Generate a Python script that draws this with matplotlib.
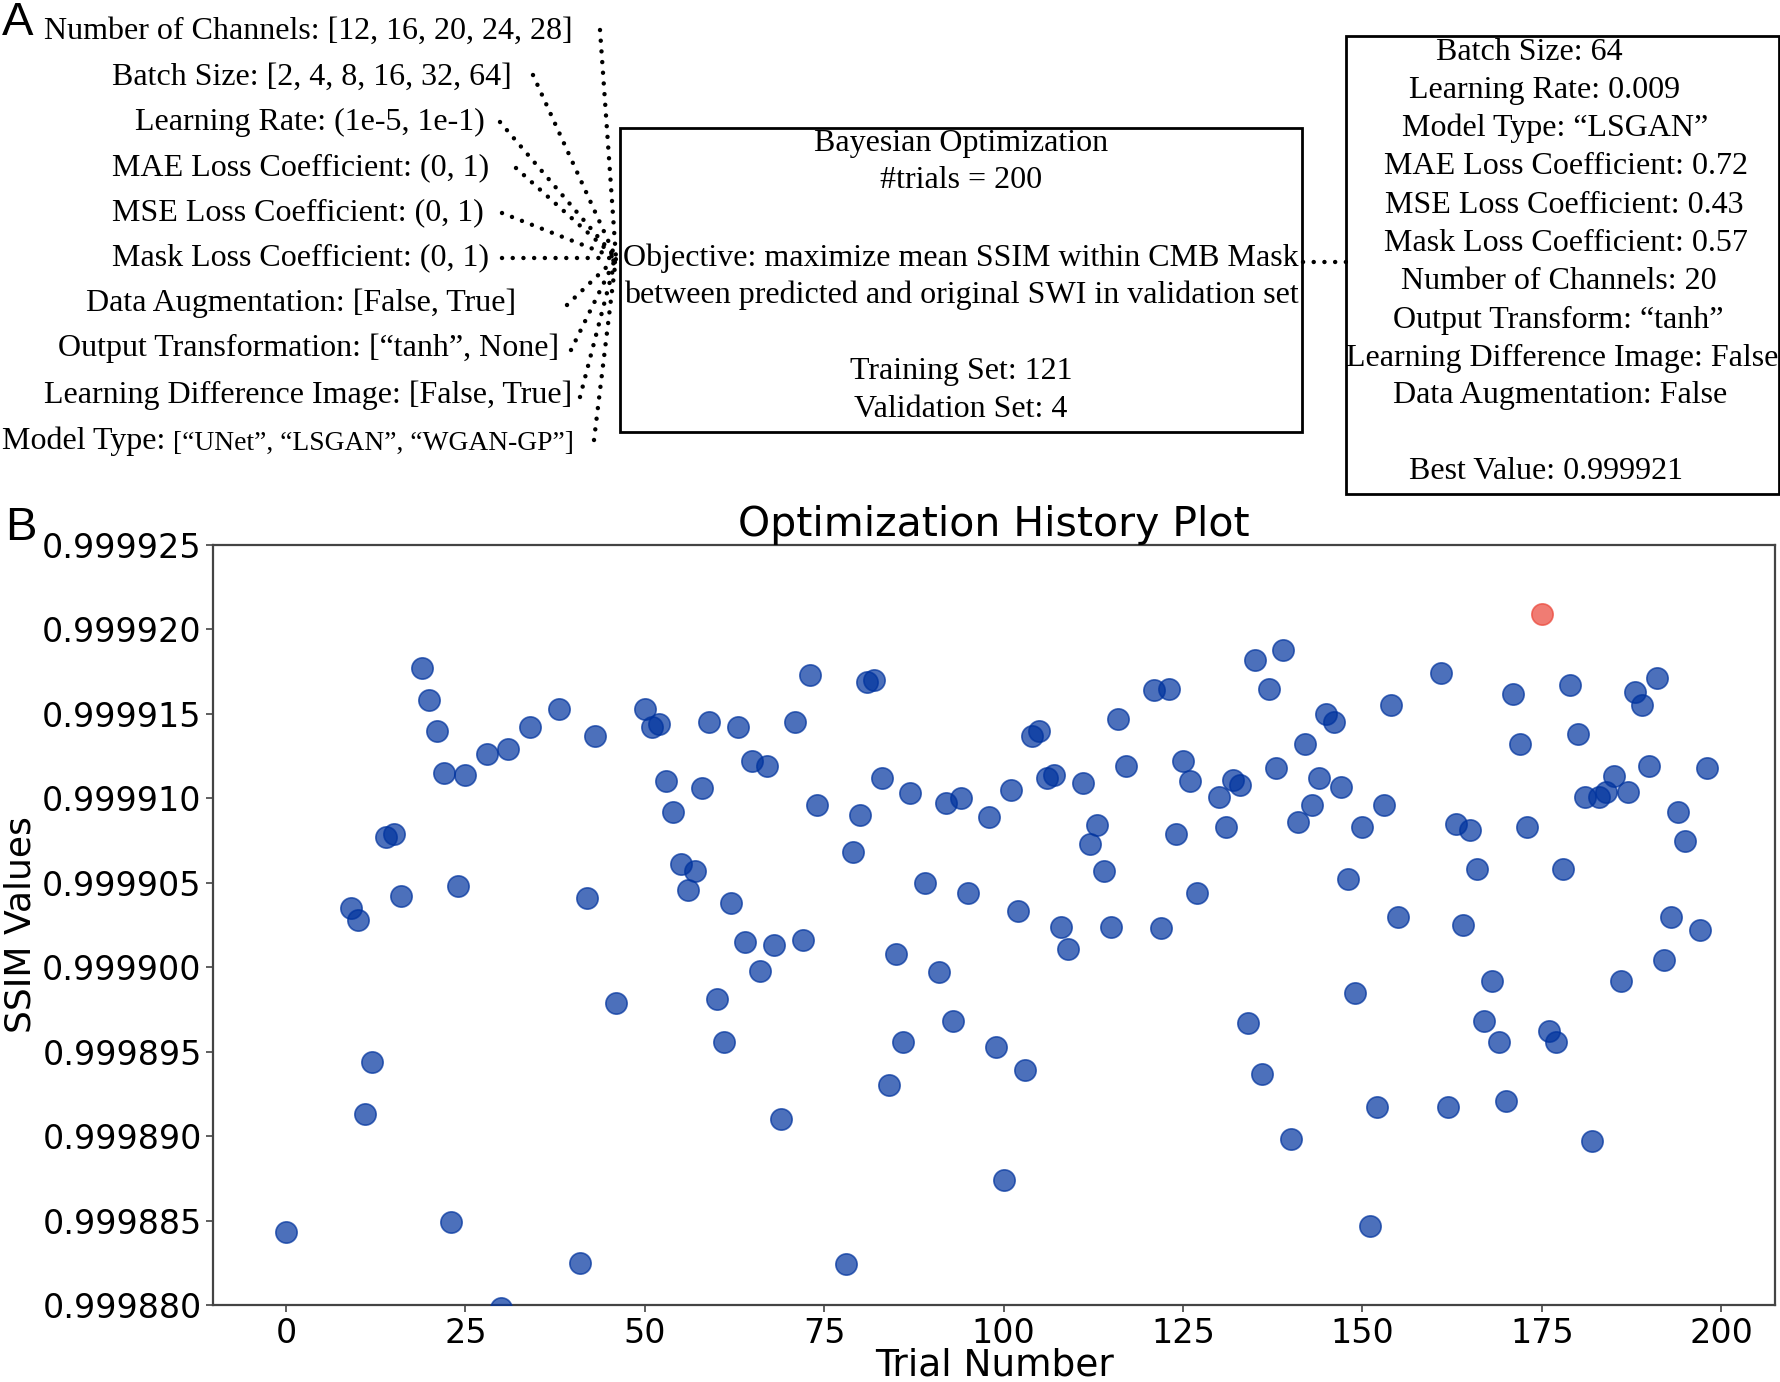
import numpy as np
import matplotlib
matplotlib.use("Agg")
import matplotlib.pyplot as plt
from matplotlib.patches import Rectangle
from matplotlib.ticker import FormatStrFormatter

# ---- panel A text ----
search_space = ["Number of Channels: [12, 16, 20, 24, 28]",
                "Batch Size: [2, 4, 8, 16, 32, 64]",
                "Learning Rate: (1e-5, 1e-1)",
                "MAE Loss Coefficient: (0, 1)",
                "MSE Loss Coefficient: (0, 1)",
                "Mask Loss Coefficient: (0, 1)",
                "Data Augmentation: [False, True]",
                "Output Transformation: [\u201ctanh\u201d, None]",
                "Learning Difference Image: [False, True]"]
model_type_head = "Model Type: "
model_type_opts = "[\u201cUNet\u201d, \u201cLSGAN\u201d, \u201cWGAN-GP\u201d]"

study_lines = ["Bayesian Optimization", "#trials = 200", "",
               "Objective: maximize mean SSIM within CMB Mask",
               "between predicted and original SWI in validation set", "",
               "Training Set: 121", "Validation Set: 4"]

best_params = ["Batch Size: 64",
               "Learning Rate: 0.009",
               "Model Type: \u201cLSGAN\u201d",
               "MAE Loss Coefficient: 0.72",
               "MSE Loss Coefficient: 0.43",
               "Mask Loss Coefficient: 0.57",
               "Number of Channels: 20",
               "Output Transform: \u201ctanh\u201d",
               "Learning Difference Image: False",
               "Data Augmentation: False",
               "",
               "Best Value: 0.999921"]

# ---- panel B data ----
trial_ids = [0, 9, 10, 11, 12, 14, 15, 16, 19, 20, 21, 22, 23, 24, 25, 28, 30, 31,
             34, 38, 41, 42, 43, 46, 50, 51, 52, 53, 54, 55, 56, 57, 58, 59, 60, 61,
             62, 63, 64, 65, 66, 67, 68, 69, 71, 72, 73, 74, 78, 79, 80, 81, 82, 83,
             84, 85, 86, 87, 89, 91, 92, 93, 94, 95, 98, 99, 100, 101, 102, 103, 104,
             105, 106, 107, 108, 109, 111, 112, 113, 114, 115, 116, 117, 121, 122,
             123, 124, 125, 126, 127, 130, 131, 132, 133, 134, 135, 136, 137, 138,
             139, 140, 141, 142, 143, 144, 145, 146, 147, 148, 149, 150, 151, 152,
             153, 154, 155, 161, 162, 163, 164, 165, 166, 167, 168, 169, 170, 171,
             172, 173, 176, 177, 178, 179, 180, 181, 182, 183, 184, 185, 186, 187,
             188, 189, 190, 191, 192, 193, 194, 195, 197, 198]
ssim_values = [0.9998843, 0.9999035, 0.9999028, 0.9998913, 0.9998944, 0.9999077,
               0.9999079, 0.9999042, 0.9999177, 0.9999158, 0.9999140, 0.9999115,
               0.9998849, 0.9999048, 0.9999114, 0.9999126, 0.9998798, 0.9999129,
               0.9999142, 0.9999153, 0.9998825, 0.9999041, 0.9999137, 0.9998979,
               0.9999153, 0.9999142, 0.9999144, 0.9999110, 0.9999092, 0.9999061,
               0.9999046, 0.9999057, 0.9999106, 0.9999145, 0.9998981, 0.9998956,
               0.9999038, 0.9999142, 0.9999015, 0.9999122, 0.9998998, 0.9999119,
               0.9999013, 0.9998910, 0.9999145, 0.9999016, 0.9999173, 0.9999096,
               0.9998824, 0.9999068, 0.9999090, 0.9999169, 0.9999170, 0.9999112,
               0.9998930, 0.9999008, 0.9998956, 0.9999103, 0.9999050, 0.9998997,
               0.9999097, 0.9998968, 0.9999100, 0.9999044, 0.9999089, 0.9998953,
               0.9998874, 0.9999105, 0.9999033, 0.9998939, 0.9999137, 0.9999140,
               0.9999112, 0.9999114, 0.9999024, 0.9999011, 0.9999109, 0.9999073,
               0.9999084, 0.9999057, 0.9999024, 0.9999147, 0.9999119, 0.9999164,
               0.9999023, 0.9999165, 0.9999079, 0.9999122, 0.9999110, 0.9999044,
               0.9999101, 0.9999083, 0.9999111, 0.9999108, 0.9998967, 0.9999182,
               0.9998937, 0.9999165, 0.9999118, 0.9999188, 0.9998898, 0.9999086,
               0.9999132, 0.9999096, 0.9999112, 0.9999150, 0.9999145, 0.9999107,
               0.9999052, 0.9998985, 0.9999083, 0.9998847, 0.9998917, 0.9999096,
               0.9999155, 0.9999030, 0.9999174, 0.9998917, 0.9999085, 0.9999025,
               0.9999081, 0.9999058, 0.9998968, 0.9998992, 0.9998956, 0.9998921,
               0.9999162, 0.9999132, 0.9999083, 0.9998962, 0.9998956, 0.9999058,
               0.9999167, 0.9999138, 0.9999101, 0.9998897, 0.9999101, 0.9999104,
               0.9999113, 0.9998992, 0.9999104, 0.9999163, 0.9999155, 0.9999119,
               0.9999171, 0.9999004, 0.9999030, 0.9999092, 0.9999075, 0.9999022,
               0.9999118]
best_trial = [175]
best_value = [0.9999209]
y_ticks = [0.999880, 0.999885, 0.999890, 0.999895, 0.999900,
           0.999905, 0.999910, 0.999915, 0.999920, 0.999925]
x_ticks = [0, 25, 50, 75, 100, 125, 150, 175, 200]

W, H = 1781, 1382
serif = ["Liberation Serif", "DejaVu Serif"]
fs_a = 23

fig = plt.figure(figsize=(W / 100, H / 100), dpi=100)

# overlay in pixel coordinates for the diagram of panel A
ov = fig.add_axes([0, 0, 1, 1])
ov.set_xlim(0, W)
ov.set_ylim(H, 0)
ov.axis("off")

left_cx = [308, 312, 310, 301, 298, 301, 301, 309, 308]
left_cy = [31, 77, 122, 168, 213, 258, 303, 348, 395]
for txt, cx, cy in zip(search_space, left_cx, left_cy):
    ov.text(cx, cy, txt, ha="center", va="center", fontsize=fs_a, family=serif)
ov.text(173, 441, model_type_head, ha="right", va="center", fontsize=fs_a, family=serif)
ov.text(173, 443, model_type_opts, ha="left", va="center", fontsize=19.8, family=serif)

# dotted connectors converging on the study box
hub = (616, 258)
starts = [(600, 30), (533, 75), (500, 122), (516, 168), (502, 213), (502, 258),
          (567, 305), (571, 350), (580, 397), (594, 440)]
dot = dict(color="black", lw=3.2, linestyle=(0, (0.01, 2.4)), dash_capstyle="round")
for sx, sy in starts:
    ov.plot([sx, hub[0]], [sy, hub[1]], **dot)
ov.plot([1303, 1346], [262, 262], **dot)

# study box
ov.add_patch(Rectangle((620, 128), 682, 304, fill=False, lw=2, ec="black"))
study_y = [143, 180, 218, 258, 295, 333, 371, 409]
for txt, cy in zip(study_lines, study_y):
    ov.text(961, cy, txt, ha="center", va="center", fontsize=fs_a, family=serif)

# best parameter box
ov.add_patch(Rectangle((1346, 36), 433, 458, fill=False, lw=2, ec="black"))
best_cx = [1529, 1545, 1555, 1566, 1564, 1566, 1559, 1558, 1562, 1560, 1560, 1546]
best_cy = [52, 90, 128, 166, 205, 243, 281, 320, 358, 395, 433, 471]
for txt, cx, cy in zip(best_params, best_cx, best_cy):
    ov.text(cx, cy, txt, ha="center", va="center", fontsize=fs_a, family=serif)

ov.text(18, 23, "A", ha="center", va="center", fontsize=34, family="Liberation Sans")
ov.text(21, 528, "B", ha="center", va="center", fontsize=34, family="Liberation Sans")

# ---- panel B: optimization history ----
ax = fig.add_axes([213.5 / W, 1 - 1305 / H, (1775 - 213.5) / W, (1305 - 545) / H])
ax.scatter(trial_ids, ssim_values, s=235, color=(0.0, 0.2, 0.62), alpha=0.7,
           linewidths=1.2, zorder=3)
ax.scatter(best_trial, best_value, s=235, color=(0.92, 0.27, 0.22), alpha=0.7,
           linewidths=1.2, zorder=3)
ax.set_xlim(-10.1, 207.5)
ax.set_ylim(y_ticks[0], y_ticks[-1])
ax.set_xticks(x_ticks)
ax.set_yticks(y_ticks)
ax.yaxis.set_major_formatter(FormatStrFormatter("%.6f"))
ax.tick_params(axis="both", labelsize=24, length=5, width=1.2, color="#444444")
for sp in ax.spines.values():
    sp.set_color("#444444")
    sp.set_linewidth(1.6)
ax.set_title("Optimization History Plot", fontsize=29.5, pad=6)
ax.set_xlabel("Trial Number", fontsize=27, labelpad=-2)
ax.set_ylabel("SSIM Values", fontsize=26, labelpad=3)

fig.savefig("out.png", dpi=100)
